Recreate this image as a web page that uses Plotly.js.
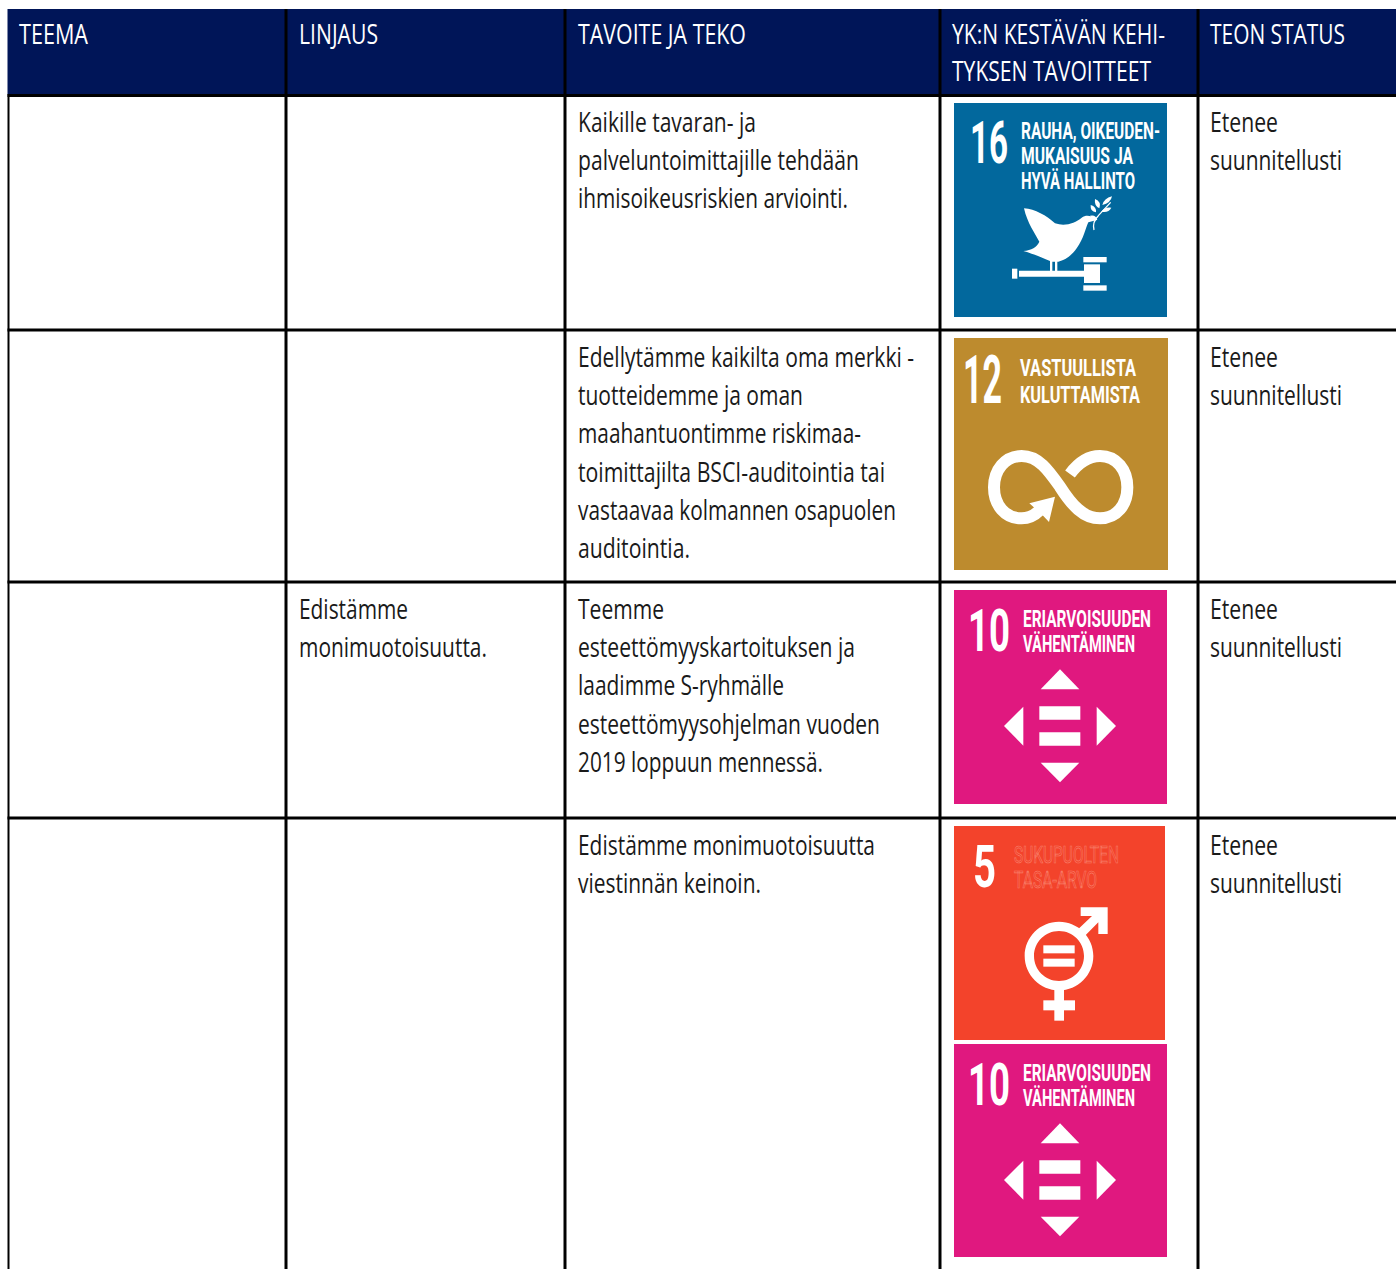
<!DOCTYPE html>
<html><head><meta charset="utf-8">
<script src="https://cdn.plot.ly/plotly-3.0.1.min.js"></script>
<style>html,body{margin:0;padding:0;background:#fff;overflow:hidden}#chart{width:1396px;height:1269px}</style>
</head><body><div id="chart"></div>
<script>
// ---- table text ----
const headerText = ["TEEMA","LINJAUS","TAVOITE JA TEKO","YK:N KESTÄVÄN KEHI-","TYKSEN TAVOITTEET","TEON STATUS"];
const bodyText = [
 "Kaikille tavaran- ja","palveluntoimittajille tehdään","ihmisoikeusriskien arviointi.",
 "Edellytämme kaikilta oma merkki -","tuotteidemme ja oman","maahantuontimme riskimaa-","toimittajilta BSCI-auditointia tai","vastaavaa kolmannen osapuolen","auditointia.",
 "Edistämme","monimuotoisuutta.",
 "Teemme","esteettömyyskartoituksen ja","laadimme S-ryhmälle","esteettömyysohjelman vuoden","2019 loppuun mennessä.",
 "Edistämme monimuotoisuutta","viestinnän keinoin.",
 "Etenee","suunnitellusti","Etenee","suunnitellusti","Etenee","suunnitellusti","Etenee","suunnitellusti"];
const tileText = ["RAUHA, OIKEUDEN-","MUKAISUUS JA","HYVÄ HALLINTO","VASTUULLISTA","KULUTTAMISTA","ERIARVOISUUDEN","VÄHENTÄMINEN","SUKUPUOLTEN","TASA-ARVO","ERIARVOISUUDEN","VÄHENTÄMINEN"];
const tileNumbers = ["16","12","10","5","10"];
const tileColors = ["#02689d","#bd8b2e","#e0187f","#f3432b","#e0187f"];

// ---- layout of the table, in page pixels ----
const colLines = [286,565,940,1198];
const rowLines = [95.5,330,582,818];
const headerX = [19,299,578,952,952,1210], headerEnd = [88,378,746,1165,1151,1345], headerBase = [44,44,44,44,81,44];
const bodyX = [578,578,578,578,578,578,578,578,578,299,299,578,578,578,578,578,578,578,1210,1210,1210,1210,1210,1210,1210,1210];
const bodyEnd = [756,859,848,914,803,861,885,896,690,408,487,664,855,784,880,823,875,761,1278,1342,1278,1342,1278,1342,1278,1342];
const bodyBase = [132,170,208,367,405,443,482,520,558,619,657,619,657,695,734,772,855,893,132,170,367,405,619,657,855,893];
const tileBoxes = [[954,103,1167,317],[954,338,1168,570],[954,590,1167,804],[954,826,1165,1040],[954,1044,1167,1257]];
const tileTextX = [1021,1021,1021,1020,1020,1023,1023,1014,1014,1023,1023];
const tileTextEnd = [1160,1133,1135,1136,1140,1151,1135,1119,1097,1151,1135];
const tileTextBase = [139,164,189,376,403,627,652,863,888,1081,1106];
const numX = [970,963,968,973,968], numEnd = [1008,1002,1010,996,1010], numBase = [164,404,652,888,1106], numSize = [60,66,60,60,60];

const BODY_FONT = "Open Sans", TILE_FONT = "Roboto";

// Icon outlines are traced in 3x crop coordinates; tf maps them to page pixels.
function tf(path, ox, oy){
  return path.replace(/(-?[\d.]+)[ ,](-?[\d.]+)/g,(m,a,b)=>(ox+a/3).toFixed(2)+" "+(oy+b/3).toFixed(2));
}
function circ(cx,cy,r){
  const k=r*0.5523;
  return `M${cx-r} ${cy} C${cx-r} ${cy-k} ${cx-k} ${cy-r} ${cx} ${cy-r} C${cx+k} ${cy-r} ${cx+r} ${cy-k} ${cx+r} ${cy} C${cx+r} ${cy+k} ${cx+k} ${cy+r} ${cx} ${cy+r} C${cx-k} ${cy+r} ${cx-r} ${cy+k} ${cx-r} ${cy} Z`;
}
const rectP=(x0,y0,x1,y1)=>`M${x0} ${y0} L${x1} ${y0} L${x1} ${y1} L${x0} ${y1} Z`;

const shapes=[];
const WHITE="#ffffff";
function rect(x0,y0,x1,y1,c){shapes.push({type:"rect",xref:"x",yref:"y",x0,y0,x1,y1,fillcolor:c,line:{width:0},layer:"above"});}
function fillP(p,ox,oy){shapes.push({type:"path",xref:"x",yref:"y",path:tf(p,ox,oy),fillcolor:WHITE,line:{width:0}});}
function lineP(p,ox,oy,w){shapes.push({type:"path",xref:"x",yref:"y",path:tf(p,ox,oy),fillcolor:"rgba(0,0,0,0)",line:{width:w,color:WHITE}});}

// table frame
rect(7.5,9,1396,94,"#001558");
colLines.forEach(x=>rect(x-1.5,9,x+1.5,1269,"#000"));
rect(7.5,94,9.5,1269,"#000");
rowLines.forEach(y=>rect(7.5,y-1.5,1396,y+1.5,"#000"));
// tiles
tileBoxes.forEach((b,i)=>rect(b[0],b[1],b[2],b[3],tileColors[i]));

// 16: dove and gavel
{const o=[940,95];
fillP("M252 340 C285 342 320 362 345 385 C375 395 405 385 425 368 C440 358 455 362 468 376 L445 382 C436 400 432 430 410 460 C395 482 375 495 355 500 L352 500 L352 528 L345 528 L345 500 L337 500 L337 528 L330 528 L330 498 C305 488 290 480 250 468 C275 465 290 458 298 440 C285 415 262 385 252 340 Z",...o);
lineP("M462 405 C458 390 462 375 475 362 L512 322",...o,1.3);
fillP("M452 330 Q470 335 468 352 Q450 350 452 330 Z",...o);
fillP("M465 312 Q485 320 478 340 Q462 332 465 312 Z",...o);
fillP("M516 304 Q512 325 487 330 Q492 310 516 304 Z",...o);
fillP("M514 338 Q505 355 484 350 Q495 335 514 338 Z",...o);
fillP("M450 362 Q468 358 472 375 Q455 378 450 362 Z",...o);
fillP(rectP(237,527,432,545),...o);
fillP(rectP(216,521,232,551),...o);
fillP(rectP(432,508,480,564),...o);
fillP(rectP(430,486,500,502),...o);
fillP(rectP(430,571,500,587),...o);
}
// 12: infinity
{const o=[940,330];
lineP("M300 540 C280 560 262 565 245 565 C195 565 162 525 162 472 C162 420 195 378 245 378 C295 378 325 420 360 470 C395 525 430 565 480 565 C530 565 562 525 562 472 C562 420 530 378 480 378 C440 378 410 405 390 432",...o,12);
fillP("M268 520 L345 500 L327 576 L305 553 Z",...o);
}
// 10: arrows and equals sign (used twice)
[[940,585],[940,1039]].forEach(o=>{
 fillP("M360 253 L418 313 L302 313 Z",...o);
 fillP("M250 365 L250 482 L192 423 Z",...o);
 fillP("M470 365 L470 482 L528 423 Z",...o);
 fillP("M302 533 L418 533 L360 592 Z",...o);
 fillP(rectP(298,364,421,404),...o);
 fillP(rectP(298,442,421,482),...o);
});
// 5: gender symbol
{const o=[940,820];
fillP(circ(357,408,103)+" "+circ(357,408,75),...o);
fillP("M422 262 L503 262 L503 342 L475 342 L475 307 L435 347 L415 327 L456 288 L422 288 Z",...o);
fillP(rectP(310,376,404,400),...o);
fillP(rectP(310,416,404,440),...o);
fillP(rectP(343,505,372,602),...o);
fillP(rectP(310,541,405,571),...o);
}

// ---- text ----
const ann=[], targets=[];
function label(t,x,end,base,size,fam,color,bold,desc,extra){
  ann.push({xref:"x",yref:"y",x,y:base+desc*size,text:bold?`<b>${t}</b>`:t,showarrow:false,xanchor:"left",yanchor:"bottom",align:"left",borderpad:0,borderwidth:0,
    font:{family:fam,size,color}});
  targets.push({w:end-x,extra});
}
const OS=0.293, RB=0.234;
headerText.forEach((t,i)=>label(t,headerX[i],headerEnd[i],headerBase[i],26.5,BODY_FONT,"#ffffff",false,OS));
bodyText.forEach((t,i)=>label(t,bodyX[i],bodyEnd[i],bodyBase[i],26.5,BODY_FONT,"#1a1a1a",false,OS));
tileNumbers.forEach((t,i)=>label(t,numX[i],numEnd[i],numBase[i],numSize[i],TILE_FONT,"#ffffff",true,RB));
tileText.forEach((t,i)=>{
  const ghost=i===7||i===8;
  label(t,tileTextX[i],tileTextEnd[i],tileTextBase[i],24.5,TILE_FONT,ghost?"#f3432b":"#ffffff",!ghost,RB,ghost);
});

const layout={width:1396,height:1269,margin:{l:0,r:0,t:0,b:0},paper_bgcolor:"#fff",plot_bgcolor:"#fff",showlegend:false,
  xaxis:{range:[0,1396],visible:false,fixedrange:true},
  yaxis:{range:[1269,0],visible:false,fixedrange:true},
  shapes,annotations:ann};
Plotly.newPlot("chart",[{x:[],y:[],type:"scatter",mode:"markers",hoverinfo:"skip"}],layout,{staticPlot:true,displayModeBar:false}).then(()=>{
  document.querySelectorAll(".annotation").forEach(g=>{
    const i=+g.getAttribute("data-index"), el=g.querySelector("text.annotation-text")||g.querySelector("text");
    if(!el||!targets[i])return;
    el.setAttribute("textLength",targets[i].w);
    el.setAttribute("lengthAdjust","spacingAndGlyphs");
    if(targets[i].extra){el.style.stroke="#f8806c";el.style.strokeWidth="0.7px";}
  });
});
</script></body></html>
